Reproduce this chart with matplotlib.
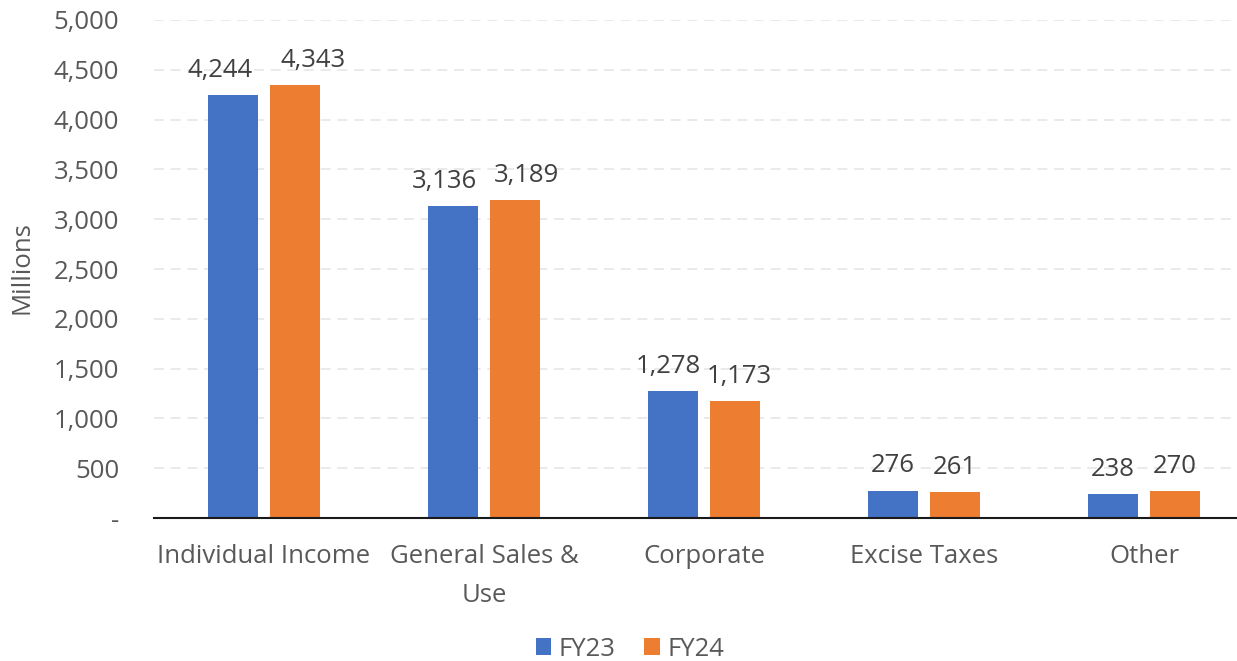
import matplotlib.pyplot as plt
import numpy as np

categories = ["Individual Income", "General Sales &\nUse", "Corporate", "Excise Taxes", "Other"]
fy23 = [4244, 3136, 1278, 276, 238]
fy24 = [4343, 3189, 1173, 261, 270]
yticks = [0, 500, 1000, 1500, 2000, 2500, 3000, 3500, 4000, 4500, 5000]

# sideways nudge (points) of the value labels so neighbours don't collide
nudge23 = [-9, -6, -3, 0, 0]
nudge24 = [13, 8, 3, 0, 0]

plt.rcParams['font.family'] = ['Open Sans', 'DejaVu Sans']
fs = 18.5

fig = plt.figure(figsize=(12.37, 6.61), dpi=100)
ax = fig.add_axes([154 / 1237, 143 / 661, 1.0 - 154 / 1237, 498 / 661])

x = np.arange(len(categories))
w = 0.225
off = 0.142
b1 = ax.bar(x - off, fy23, w, color='#4472C4', label='FY23', zorder=3)
b2 = ax.bar(x + off, fy24, w, color='#ED7D31', label='FY24', zorder=3)

# value labels above each bar
for bars, vals, nudge in ((b1, fy23, nudge23), (b2, fy24, nudge24)):
    for b, v, dx in zip(bars, vals, nudge):
        ax.annotate(f"{v:,}", (b.get_x() + b.get_width() / 2, v), xytext=(dx, 13),
                    textcoords='offset points', ha='center', va='baseline',
                    fontsize=fs, color='#404040')

ax.set_ylim(0, 5000)
ax.set_xlim(-0.5, 4.5 - 17 / 220)
ax.set_yticks(yticks)
ax.set_yticklabels(['-' if t == 0 else f"{t:,}" for t in yticks])
ax.set_xticks(x)
ax.set_xticklabels(categories, linespacing=1.7)
ax.tick_params(axis='both', length=0, labelsize=fs, labelcolor='#595959')
ax.tick_params(axis='x', pad=19)
ax.tick_params(axis='y', pad=25)
ax.grid(axis='y', color='#E6E6E6', linestyle=(0, (6, 4)), linewidth=1.2, zorder=0)
ax.set_axisbelow(True)
for s in ['top', 'right', 'left']:
    ax.spines[s].set_visible(False)
ax.spines['bottom'].set_color('#1a1a1a')
ax.spines['bottom'].set_linewidth(1.5)
ax.spines['bottom'].set_zorder(4)

fig.text(22 / 1237, 1 - 268 / 661, 'Millions', rotation=90, ha='center', va='center',
         fontsize=fs, color='#595959')

fig.legend(handles=[b1, b2], loc='center', bbox_to_anchor=(630 / 1237, 1 - 649 / 661),
           ncol=2, frameon=False, fontsize=fs, labelcolor='#595959',
           handlelength=0.6, handleheight=0.6, handletextpad=0.3, columnspacing=1.1)

fig.savefig('out.png', dpi=100)
